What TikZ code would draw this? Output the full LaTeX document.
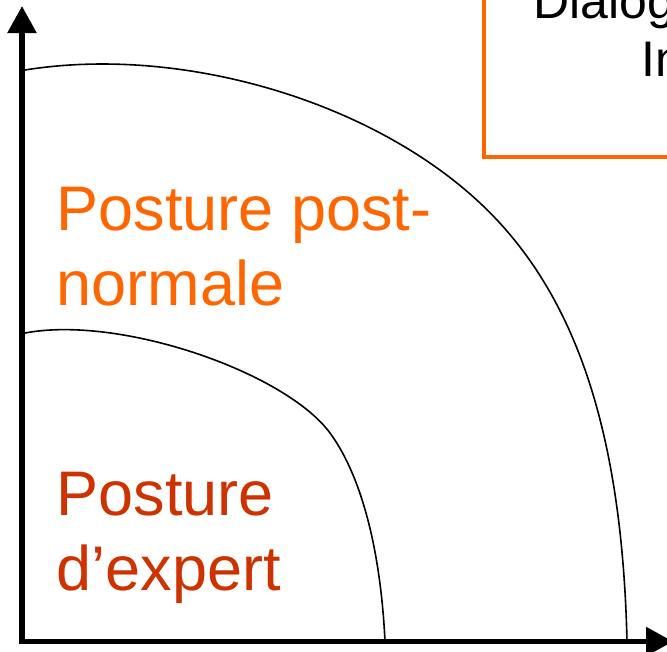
\documentclass[tikz,border=0pt]{standalone}
\usepackage{fontspec}
\setmainfont{Liberation Sans}
\usetikzlibrary{arrows.meta}
\definecolor{postorange}{RGB}{255,102,0}
\definecolor{expertred}{RGB}{204,51,0}
\tikzset{
  axis/.style={line width=5.5pt, -{Triangle[length=27pt,width=28pt]}},
  zone/.style={line width=1.6pt, black},
  boxline/.style={line width=4pt, draw=postorange},
  biglabel/.style={inner sep=0pt, anchor=base west, font=\fontsize{63}{75}\selectfont},
  boxlabel/.style={inner sep=0pt, anchor=base west, font=\fontsize{50}{58}\selectfont, text=black}
}
\begin{document}
\begin{tikzpicture}[x=1pt,y=-1pt]
\useasboundingbox (0,0) rectangle (667,651);
\clip (0,0) rectangle (667,651);
\fill[white] (0,0) rectangle (667,651);
% box at top right
\draw[boxline] (484,157) rectangle (720,-30);
\node[boxlabel] (dia) at (533,18) {Dialog};
\node[boxlabel] (inn) at (641,76) {In};
% axes
\coordinate (ytip) at (22,6);
\coordinate (xtip) at (673,641.5);
\draw[axis] (22,644) -- (ytip);
\draw[axis] (19.5,641.5) -- (xtip);
% curves
\draw[zone] (25,70) .. controls (180,45) and (370,100) .. (480,203)
                    .. controls (575,292) and (622,430) .. (627,641);
\draw[zone] (25,333) .. controls (120,315) and (285,372) .. (330,433)
                     .. controls (358,471) and (380,540) .. (385,641);
% labels
\node[biglabel, text=postorange] (pp1) at (56.5,230) {Posture post-};
\node[biglabel, text=postorange] (pp2) at (56.5,305) {normale};
\node[biglabel, text=expertred] (pe1) at (56.5,515) {Posture};
\node[biglabel, text=expertred] (pe2) at (56.5,590) {d’expert};
\end{tikzpicture}
\end{document}
